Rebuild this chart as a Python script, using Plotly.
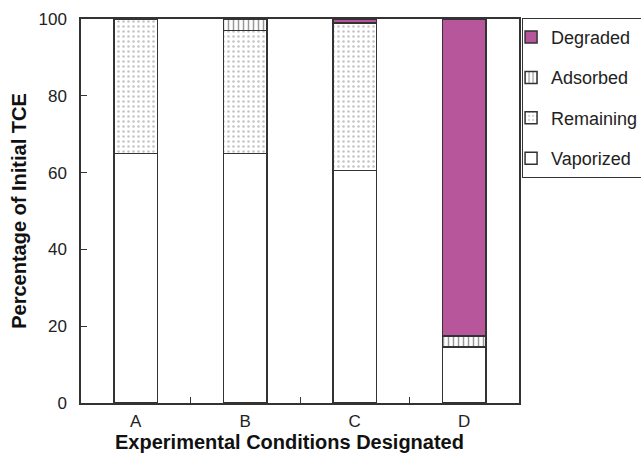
import plotly.graph_objects as go

categories = ["A", "B", "C", "D"]
vaporized = [65.0, 65.0, 60.6, 14.6]
remaining = [35.0, 32.0, 38.3, None]
adsorbed = [None, 3.0, None, 2.9]
degraded = [None, None, 1.1, 82.5]

line_col = "#333333"
series = [
    ("Vaporized", vaporized, 4, dict(color="white", line=dict(color=line_col, width=1.5))),
    ("Remaining", remaining, 3, dict(color="white", line=dict(color=line_col, width=1.5),
                                     pattern=dict(shape=".", fgcolor="#8a8a8a", bgcolor="white", size=5, solidity=0.2))),
    ("Adsorbed", adsorbed, 2, dict(color="white", line=dict(color=line_col, width=1.5),
                                   pattern=dict(shape="|", fgcolor="#333333", bgcolor="white", size=5, solidity=0.3))),
    ("Degraded", degraded, 1, dict(color="#B8569B", line=dict(color=line_col, width=1.5))),
]

fig = go.Figure()
for name, vals, rank, marker in series:
    fig.add_trace(go.Bar(x=categories, y=vals, name=name, marker=marker,
                         width=0.4, legendgroup=name, legendrank=rank))

fig.update_layout(
    barmode="stack",
    width=641, height=457,
    margin=dict(l=81, r=122, t=19, b=54, autoexpand=False),
    plot_bgcolor="white", paper_bgcolor="white",
    font=dict(family="Liberation Sans, Arial, sans-serif", size=17, color="#222222"),
    legend=dict(
        x=1.007, xanchor="left", y=1.003, yanchor="top",
        traceorder="grouped", tracegroupgap=14, indentation=-12,
        bordercolor="#333333", borderwidth=1,
        font=dict(size=18, color="#222222"),
    ),
    showlegend=True,
    annotations=[dict(
        text="<b>Experimental Conditions Designated</b>", xref="paper", yref="paper",
        x=0.477, y=-0.102, xanchor="center", yanchor="middle", showarrow=False,
        font=dict(size=20, color="#111111"),
    )],
)
fig.update_xaxes(
    showline=True, linecolor="#333333", linewidth=1.5, mirror=True,
    ticks="inside", ticklen=6, tickcolor="#333333", tickson="boundaries",
    ticklabelstandoff=2,
)
fig.update_yaxes(
    range=[0, 100], dtick=20,
    showline=True, linecolor="#333333", linewidth=1.5, mirror=True,
    ticks="inside", ticklen=6, tickcolor="#333333",
    showgrid=False, zeroline=False,
    title=dict(text="<b>Percentage of Initial TCE</b>", font=dict(size=20, color="#111111"), standoff=6),
    ticklabelstandoff=9,
)

fig.write_html("out.html")
